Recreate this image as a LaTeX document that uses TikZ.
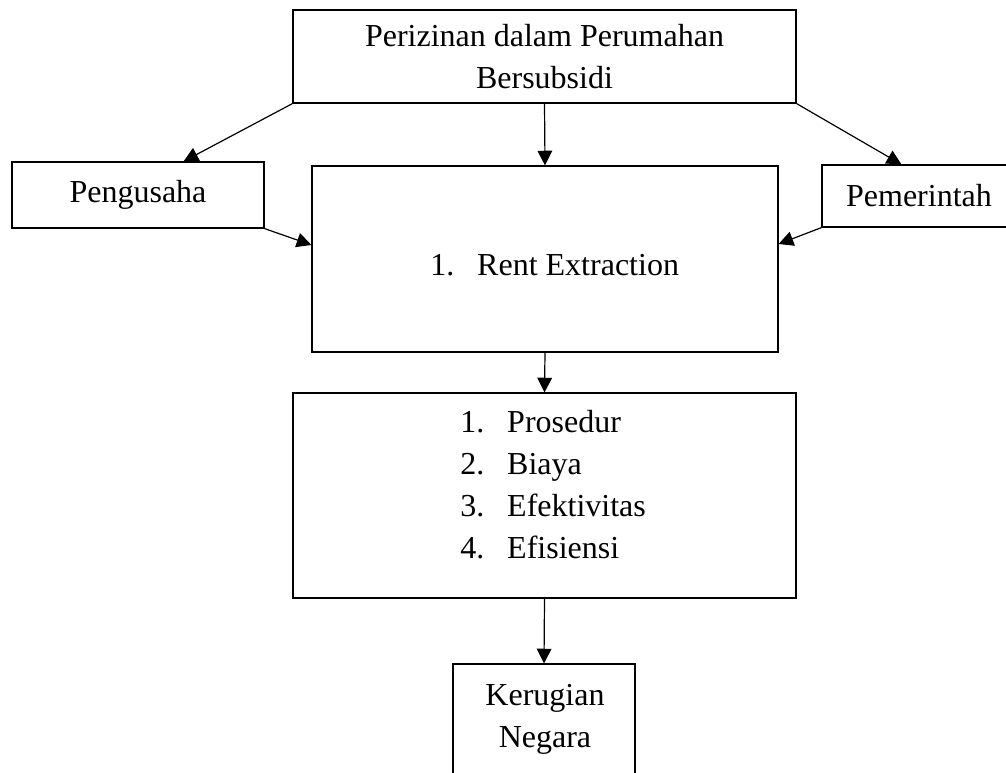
\documentclass[tikz,border=0pt]{standalone}
\usepackage{fontspec}
\setmainfont{Liberation Serif}
\usetikzlibrary{arrows.meta, positioning, calc}
\tikzset{
  flowbox/.style={
    draw, line width=0.9pt, align=center, inner sep=0pt,
    font=\fontsize{24}{31.3}\selectfont
  },
  flowarrow/.style={
    -{Triangle[length=11pt, width=11pt]}, line width=0.9pt
  },
  itemtext/.style={
    font=\fontsize{24}{31.3}\selectfont, inner sep=0pt, align=left
  },
}
\newcommand{\itemno}[1]{\makebox[35.25pt][l]{#1}}

\begin{document}
\begin{tikzpicture}[x=0.75pt, y=-0.75pt]
  \clip (0,0) rectangle (1006,772);

  % ── Boxes ──
  \node[flowbox, minimum width=377.25pt, minimum height=69.75pt] (perizinan) at (544.5,56.5)
    {Perizinan dalam Perumahan\\Bersubsidi};
  \node[flowbox, minimum width=189pt, minimum height=49.5pt] (pengusaha) at (138,195) {Pengusaha};
  \node[flowbox, minimum width=145.5pt, minimum height=46.5pt] (pemerintah) at (919,196) {Pemerintah};
  \node[flowbox, minimum width=349.5pt, minimum height=139.5pt] (rent) at (545,259) {};
  \node[itemtext, anchor=base west] (renttext) at (430,275) {\itemno{1.}Rent Extraction};
  \node[flowbox, minimum width=377.25pt, minimum height=153.75pt] (faktor) at (544.5,495.5) {};
  \node[itemtext, anchor=base west] (faktortext) at (460,558)
    {\itemno{1.}Prosedur\\\itemno{2.}Biaya\\\itemno{3.}Efektivitas\\\itemno{4.}Efisiensi};
  \node[flowbox, minimum width=136.5pt, minimum height=94.5pt] (kerugian) at (544,727) {};
  \node[itemtext, align=center, anchor=base] (kerugiantext) at (545,747) {Kerugian\\Negara};

  % ── Arrows ──
  \draw[flowarrow] (perizinan.south) -- (rent.north);
  \draw[flowarrow] (perizinan.south west) -- ($(pengusaha.north west)!0.68!(pengusaha.north east)$);
  \draw[flowarrow] (perizinan.south east) -- ($(pemerintah.north west)!0.41!(pemerintah.north east)$);
  \draw[flowarrow] (pengusaha.south east) -- ($(rent.north west)!0.425!(rent.south west)$);
  \draw[flowarrow] (pemerintah.south west) -- ($(rent.north east)!0.42!(rent.south east)$);
  \draw[flowarrow] (rent.south) -- (faktor.north);
  \draw[flowarrow] (faktor.south) -- (kerugian.north);
\end{tikzpicture}
\end{document}
